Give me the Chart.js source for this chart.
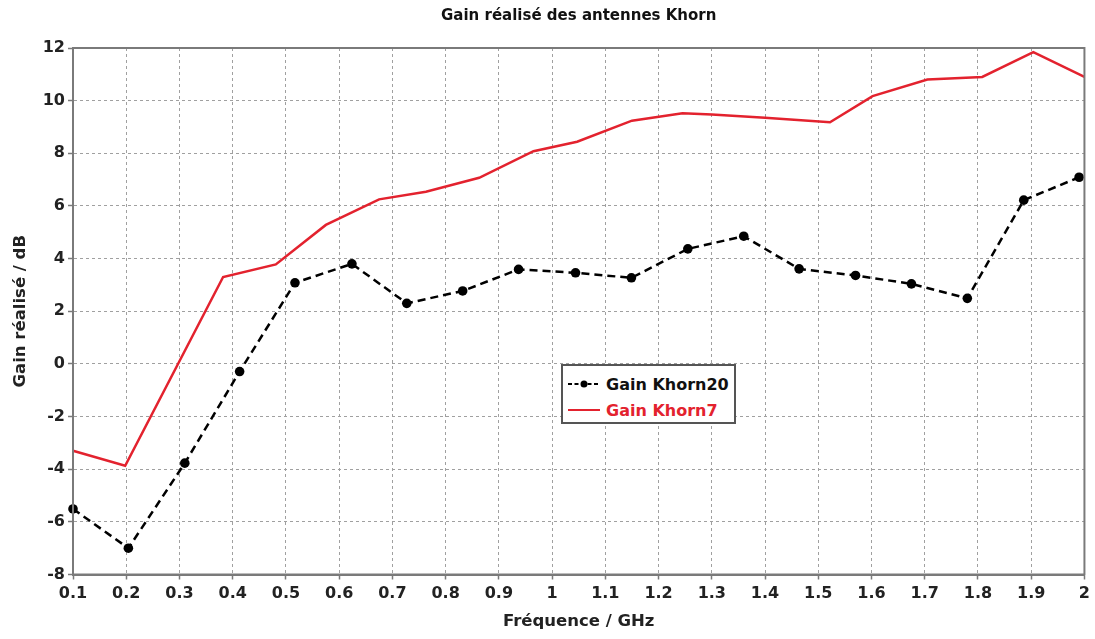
<!DOCTYPE html>
<html lang="fr">
<head>
<meta charset="utf-8">
<title>Gain réalisé des antennes Khorn</title>
<script src="https://cdn.jsdelivr.net/npm/chart.js@4/dist/chart.umd.min.js"></script>
<style>
  html, body { margin: 0; padding: 0; background: #fff; }
  #wrap { position: relative; width: 1095px; height: 639px; }
  #legend {
    position: absolute; left: 561px; top: 364px; width: 171px; height: 56px;
    border: 2px solid #555; background: #fff;
    font: bold 16px "DejaVu Sans", Verdana, sans-serif;
  }
  #legend .row { position: absolute; left: 4px; height: 20px; display: flex; align-items: center; white-space: nowrap; }
  #legend svg { width: 34px; height: 14px; margin-right: 5px; }
</style>
</head>
<body>
<div id="wrap">
  <canvas id="c" width="1095" height="639"></canvas>
  <div id="legend"></div>
</div>
<script>
// Mesures de gain réalisé (dB) en fonction de la fréquence (GHz)
const seriesNames = ['Gain Khorn20', 'Gain Khorn7'];

const khorn20Freq = [0.1, 0.204, 0.31, 0.413, 0.517, 0.624, 0.727, 0.832, 0.937, 1.044,
                     1.149, 1.255, 1.36, 1.464, 1.57, 1.675, 1.78, 1.886, 1.99];
const khorn20Gain = [-5.51, -7.0, -3.77, -0.29, 3.08, 3.80, 2.30, 2.77, 3.59, 3.46,
                     3.27, 4.37, 4.85, 3.61, 3.36, 3.04, 2.49, 6.22, 7.09];

const khorn7Freq = [0.1, 0.198, 0.382, 0.481, 0.575, 0.675, 0.763, 0.863, 0.965, 1.047,
                    1.15, 1.245, 1.3, 1.4, 1.522, 1.602, 1.705, 1.808, 1.904, 2.0];
const khorn7Gain = [-3.3, -3.87, 3.3, 3.78, 5.28, 6.25, 6.54, 7.07, 8.08, 8.44,
                    9.24, 9.52, 9.47, 9.35, 9.18, 10.17, 10.8, 10.9, 11.84, 10.9];

const xTicks = [0.1, 0.2, 0.3, 0.4, 0.5, 0.6, 0.7, 0.8, 0.9, 1.0,
                1.1, 1.2, 1.3, 1.4, 1.5, 1.6, 1.7, 1.8, 1.9, 2.0];
const yTicks = [-8, -6, -4, -2, 0, 2, 4, 6, 8, 10, 12];

const FONT = '"DejaVu Sans", Verdana, sans-serif';
const RED = '#e3222e';
const AXIS = '#7a7a7a';
const GRID = '#a0a0a0';

const toPoints = (xs, ys) => xs.map((x, i) => ({ x: x, y: ys[i] }));

// Cadre complet autour de la zone de tracé
const frame = {
  id: 'frame',
  afterDatasetsDraw(chart) {
    const { ctx, chartArea: a } = chart;
    ctx.save();
    ctx.strokeStyle = AXIS;
    ctx.lineWidth = 2;
    ctx.setLineDash([]);
    ctx.strokeRect(a.left, a.top, a.right - a.left, a.bottom - a.top);
    ctx.restore();
  }
};

const gridOpts = {
  color: GRID,
  lineWidth: 1,
  tickLength: 5,
  tickColor: AXIS,
  tickWidth: 1.5,
  tickBorderDash: []
};
const borderOpts = { display: true, color: AXIS, width: 2, dash: [3, 3] };

const chart = new Chart(document.getElementById('c'), {
  type: 'line',
  data: {
    datasets: [
      {
        label: seriesNames[0],
        data: toPoints(khorn20Freq, khorn20Gain),
        borderColor: '#000',
        backgroundColor: '#000',
        borderWidth: 2.5,
        borderDash: [8, 5],
        pointRadius: 4.8,
        pointBorderWidth: 0,
        pointBackgroundColor: '#000',
        tension: 0,
        clip: false
      },
      {
        label: seriesNames[1],
        data: toPoints(khorn7Freq, khorn7Gain),
        borderColor: RED,
        backgroundColor: RED,
        borderWidth: 2.5,
        pointRadius: 0,
        tension: 0,
        clip: false
      }
    ]
  },
  options: {
    responsive: false,
    animation: false,
    events: [],
    layout: { padding: { left: 0, right: 8, top: 0, bottom: 0 } },
    plugins: {
      legend: { display: false },
      tooltip: { enabled: false },
      title: {
        display: true,
        fullSize: false,
        text: 'Gain réalisé des antennes Khorn',
        color: '#111',
        font: { family: FONT, size: 15, weight: 'bold' },
        padding: { top: 7, bottom: 23 }
      }
    },
    scales: {
      x: {
        type: 'linear',
        min: xTicks[0],
        max: xTicks[xTicks.length - 1],
        afterFit(scale) { scale.height = 64.5; },
        afterBuildTicks(scale) { scale.ticks = xTicks.map(v => ({ value: v })); },
        ticks: {
          autoSkip: false,
          maxRotation: 0,
          padding: 5,
          color: '#222',
          font: { family: FONT, size: 16, weight: 'bold' },
          callback: v => String(Number(v.toFixed(1)))
        },
        grid: gridOpts,
        border: borderOpts,
        title: {
          display: true,
          text: 'Fréquence / GHz',
          color: '#222',
          font: { family: FONT, size: 16.5, weight: 'bold' },
          padding: { top: 0, bottom: 7 }
        }
      },
      y: {
        type: 'linear',
        min: yTicks[0],
        max: yTicks[yTicks.length - 1],
        afterFit(scale) { scale.width = 73; },
        afterBuildTicks(scale) { scale.ticks = yTicks.map(v => ({ value: v })); },
        ticks: {
          padding: 3,
          color: '#222',
          font: { family: FONT, size: 16, weight: 'bold' },
          callback: v => String(v)
        },
        grid: gridOpts,
        border: borderOpts,
        title: {
          display: true,
          text: 'Gain réalisé / dB',
          color: '#222',
          font: { family: FONT, size: 16.5, weight: 'bold' },
          padding: { top: 11, bottom: 0 }
        }
      }
    }
  },
  plugins: [frame]
});

// Légende encadrée, construite à partir des séries
(function buildLegend() {
  const box = document.getElementById('legend');
  const tops = [8, 34];
  chart.data.datasets.forEach((ds, i) => {
    const row = document.createElement('div');
    row.className = 'row';
    row.style.top = tops[i] + 'px';
    const dash = ds.borderDash ? ds.borderDash.map(d => d * 0.5).join(' ') : '';
    const dot = ds.pointRadius ? '<circle cx="17" cy="7" r="3.5" fill="' + ds.borderColor + '"/>' : '';
    row.innerHTML =
      '<svg viewBox="0 0 34 14"><line x1="1" y1="7" x2="33" y2="7" stroke="' + ds.borderColor +
      '" stroke-width="2"' + (dash ? ' stroke-dasharray="' + dash + '"' : '') + '/>' + dot + '</svg>' +
      '<span style="color:' + (i === 0 ? '#111' : ds.borderColor) + '">' + ds.label + '</span>';
    box.appendChild(row);
  });
})();
</script>
</body>
</html>
